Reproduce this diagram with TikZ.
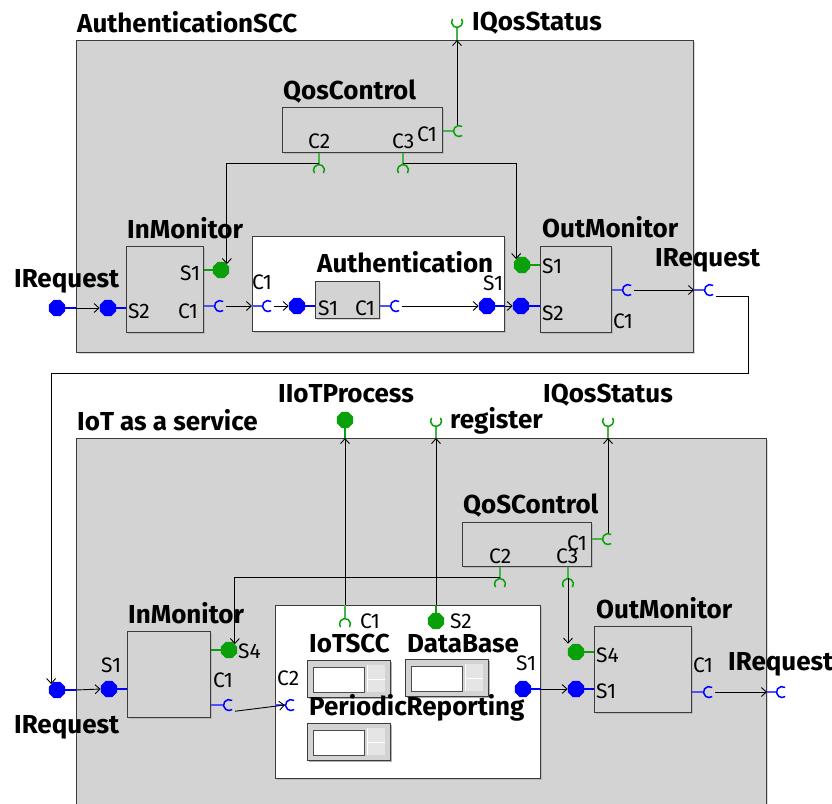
\documentclass[tikz,border=0pt]{standalone}
\usepackage{fontspec}
\IfFontExistsTF{Noto Sans Bold}
  {\setmainfont{Noto Sans}[BoldFont={Noto Sans Bold}]}
  {\setmainfont{Fira Sans}}
\usetikzlibrary{positioning,shapes.geometric,arrows.meta,shadows,calc}

\definecolor{boxgray}{RGB}{211,211,211}
\definecolor{bordc}{RGB}{60,60,60}
\definecolor{pgreen}{RGB}{10,160,10}
\definecolor{lgreen}{RGB}{70,180,70}
\definecolor{pblue}{RGB}{0,0,255}
\definecolor{lblue}{RGB}{80,80,255}

\tikzset{
  ctr/.style={draw=bordc, fill=boxgray, line width=1pt, inner sep=0pt, anchor=north west},
  box/.style={ctr, drop shadow={shadow xshift=1.5pt, shadow yshift=-1.5pt, opacity=0.3}},
  wbox/.style={box, fill=white},
  ttl/.style={font=\bfseries\fontsize{26}{28}\selectfont, inner sep=0pt, anchor=base west},
  plab/.style={font=\fontsize{21}{22}\selectfont, inner sep=0pt, anchor=base west},
  oct/.style={regular polygon, regular polygon sides=8, minimum size=17.5pt, inner sep=0pt, fill=#1},
  pp/.style={inner sep=0pt, minimum size=12pt},
  sstem/.style={line width=2.6pt, draw=#1},
  cstem/.style={line width=1.1pt, draw=#1},
  conn/.style={line width=0.9pt, -{Straight Barb[length=5pt,width=9pt]}},
  creq/.pic={\draw[line width=1.5pt, pic actions] (55:5.5pt) arc[start angle=55, end angle=305, radius=5.5pt];},
  icon/.pic={
    \fill[black!30] (2,-2) rectangle (85,-39);
    \draw[bordc, fill=boxgray, line width=0.8pt] (0,0) rectangle (83,-37);
    \draw[black!70, fill=white, line width=0.8pt] (6,-7) rectangle (57,-32);
    \fill[black!10] (60,-5) rectangle (78,-32);
    \draw[white, line width=1pt] (60,-5) -- (60,-32) (60,-19) -- (78,-19);
  },
}

% required port: name, position, rotation, colour
\newcommand{\cport}[4]{%
  \node[pp] (#1) at (#2) {};
  \pic[rotate=#3, draw=#4] at (#1) {creq};
}

\begin{document}
\begin{tikzpicture}[x=1pt, y=1pt]
\useasboundingbox (0,0) rectangle (832,-803);
%% AuthenticationSCC
\node[box, minimum width=617pt, minimum height=312pt] (asc) at (76,-40) {};
\node[ttl] (asc-t) at (77,-32) {AuthenticationSCC};

% QosControl
\node[box, minimum width=160pt, minimum height=45pt] (qos1) at (282,-107) {};
\node[ttl] (qos1-t) at (283,-99) {QosControl};
\node[plab] (qos1-c2) at (308,-148) {C2};
\node[plab] (qos1-c3) at (392,-148) {C3};
\node[plab] (qos1-c1) at (417,-141) {C1};
\cport{qc2}{319,-170}{-90}{pgreen}
\cport{qc3}{403,-170}{-90}{pgreen}
\cport{qc1}{459,-131}{0}{pgreen}
\draw[cstem=lgreen] (qc2 |- qos1.south) -- (qc2.north);
\draw[cstem=lgreen] (qc3 |- qos1.south) -- (qc3.north);
\draw[cstem=lgreen] (qos1.east |- qc1) -- (qc1.west);
\cport{qst}{457,-22}{90}{pgreen}
\node[ttl] (qst-t) at (472,-30) {IQosStatus};
\draw[cstem=lgreen] (qst |- asc.north) -- (qst.south);
\draw[conn] (qc1.north -| qst) -- (qst |- asc.north);

% InMonitor
\node[box, minimum width=77pt, minimum height=86pt] (im1) at (126,-246) {};
\node[ttl] (im1-t) at (127,-238) {InMonitor};
\node[plab] (im1-s1) at (180,-280) {S1};
\node[plab] (im1-c1) at (178,-318) {C1};
\node[plab] (im1-s2) at (128,-318) {S2};
\draw[sstem=pgreen] (im1.east |- 0,-270) -- (213,-270);
\node[oct=pgreen] (ims1) at (221,-270) {};
\cport{imc1}{220,-306}{0}{pblue}
\draw[cstem=lblue] (im1.east |- imc1) -- (imc1.west);
\node[oct=pblue] (ims2) at (108,-308) {};
\draw[sstem=pblue] (ims2.east) -- (im1.west |- ims2);
\node[oct=pblue] (irq1) at (57,-308) {};
\node[ttl] (irq1-t) at (14,-287) {IRequest};
\draw[sstem=pblue] (irq1.east) -- (asc.west |- irq1);
\draw[conn] (asc.west |- irq1) -- (ims2.west);

% Authentication
\node[wbox, minimum width=252pt, minimum height=95pt] (au) at (252,-236) {};
\node[ttl] (au-t) at (317,-272) {Authentication};
\node[plab] (au-c1) at (252,-289) {C1};
\node[plab] (au-s1) at (483,-290) {S1};
\cport{auc1}{268,-306}{0}{pblue}
\draw[cstem=lblue] (au.west |- auc1) -- (auc1.west);
\node[box, minimum width=64pt, minimum height=37pt] (aui) at (315,-281) {};
\node[plab] (aui-s1) at (318,-315) {S1};
\node[plab] (aui-c1) at (355,-315) {C1};
\node[oct=pblue] (auis1) at (297,-306) {};
\draw[sstem=pblue] (auis1.east) -- (aui.west |- auis1);
\cport{auic1}{396,-306}{0}{pblue}
\draw[cstem=lblue] (aui.east |- auic1) -- (auic1.west);
\node[oct=pblue] (aus1) at (487,-306) {};
\draw[sstem=pblue] (aus1.east) -- (au.east |- aus1);
\draw[conn] (imc1.east) -- (au.west |- imc1);
\draw[conn] (auc1.east) -- (auis1.west);
\draw[conn] (auic1.east) -- (aus1.west);

% OutMonitor
\node[box, minimum width=71pt, minimum height=86pt] (om1) at (540,-246) {};
\node[ttl] (om1-t) at (542,-237) {OutMonitor};
\node[plab] (om1-s1) at (542,-273) {S1};
\node[plab] (om1-s2) at (542,-320) {S2};
\node[plab] (om1-c1) at (613,-328) {C1};
\node[oct=pgreen] (oms1) at (522,-265) {};
\draw[sstem=pgreen] (oms1.east) -- (om1.west |- oms1);
\node[oct=pblue] (oms2) at (521,-306) {};
\draw[sstem=pblue] (oms2.east) -- (om1.west |- oms2);
\draw[conn] (au.east |- aus1) -- (oms2.west);
\cport{omc1}{628,-290}{0}{pblue}
\draw[cstem=lblue] (om1.east |- omc1) -- (omc1.west);
\cport{irq2}{710,-290}{0}{pblue}
\draw[cstem=lblue] (asc.east |- irq2) -- (irq2.west);
\node[ttl] (irq2-t) at (655,-266) {IRequest};
\draw[conn] (omc1.east) -- (asc.east |- omc1);

% QosControl -> monitors
\draw[conn] (qc2.north) -| (ims1.north east);
\draw[conn] (qc3.north) -| (oms1.north west);

%% IoT as a service
\node[box, minimum width=690pt, minimum height=380pt] (iot) at (76,-438) {};
\node[ttl] (iot-t) at (77,-430) {IoT as a service};

\node[oct=pgreen] (iip) at (345,-420) {};
\node[ttl] (iip-t) at (278,-402) {IIoTProcess};
\draw[sstem=pgreen] (iip.south) -- (iip |- iot.north);
\cport{reg}{436,-421}{90}{pgreen}
\draw[cstem=lgreen] (reg.south) -- (reg |- iot.north);
\node[ttl] (reg-t) at (450,-428) {register};
\cport{qst2}{608,-421}{90}{pgreen}
\draw[cstem=lgreen] (qst2.south) -- (qst2 |- iot.north);
\node[ttl] (qst2-t) at (543,-402) {IQosStatus};

% QoSControl
\node[box, minimum width=129pt, minimum height=44pt] (qos2) at (462,-522) {};
\node[ttl] (qos2-t) at (463,-513) {QoSControl};
\node[plab] (qos2-c1) at (567,-550) {C1};
\node[plab] (qos2-c2) at (489,-563) {C2};
\node[plab] (qos2-c3) at (556,-563) {C3};
\cport{q2c1}{608,-539}{0}{pgreen}
\draw[cstem=lgreen] (qos2.east |- q2c1) -- (q2c1.west);
\cport{q2c2}{500,-584}{-90}{pgreen}
\draw[cstem=lgreen] (q2c2 |- qos2.south) -- (q2c2.north);
\cport{q2c3}{568,-584}{-90}{pgreen}
\draw[cstem=lgreen] (q2c3 |- qos2.south) -- (q2c3.north);
\draw[conn] (q2c1.north) -- (q2c1 |- iot.north);

% InMonitor
\node[box, minimum width=83pt, minimum height=86pt] (im2) at (127,-631) {};
\node[ttl] (im2-t) at (128,-623) {InMonitor};
\node[plab] (im2-s4) at (238,-658) {S4};
\node[plab] (im2-c1) at (213,-687) {C1};
\node[plab] (im2-s1) at (101,-672) {S1};
\node[oct=pgreen] (ims4) at (229,-650) {};
\draw[sstem=pgreen] (im2.east |- ims4) -- (ims4.west);
\cport{imc2}{229,-705}{0}{pblue}
\draw[cstem=lblue] (im2.east |- imc2) -- (imc2.west);
\node[oct=pblue] (ims1b) at (109,-689) {};
\draw[sstem=pblue] (ims1b.east) -- (im2.west |- ims1b);
\node[oct=pblue] (irq3) at (57,-690) {};
\node[ttl] (irq3-t) at (14,-733) {IRequest};
\draw[sstem=pblue] (irq3.east) -- (iot.west |- irq3);
\draw[conn] (iot.west |- irq3) -- (ims1b.west);
\draw[conn] (q2c2.north) -| (ims4.north east);
\draw[conn] (irq2.south east) -| ($(irq2)+(38,-83)$) -| (irq3.north west);

% inner part
\node[wbox, minimum width=265pt, minimum height=173pt] (ib) at (275,-605) {};
\cport{ic1}{345,-624}{-90}{pgreen}
\draw[cstem=lgreen] (ic1 |- ib.north) -- (ic1.north);
\node[plab] (ib-c1) at (360,-628) {C1};
\draw[sstem=pgreen] (436,-605) -- (436,-613);
\node[oct=pgreen] (is2) at (436,-621) {};
\node[plab] (ib-s2) at (450,-628) {S2};
\cport{ic2}{291,-705}{0}{pblue}
\draw[cstem=lblue] (ib.west |- ic2) -- (ic2.west);
\node[plab] (ib-c2) at (277,-685) {C2};
\node[oct=pblue] (is1) at (523,-689) {};
\draw[sstem=pblue] (is1.east) -- (ib.east |- is1);
\node[plab] (ib-s1) at (516,-670) {S1};
\draw[conn] (ic1 |- ib.north) -- (iip |- iot.north);
\draw[conn] (is2 |- ib.north) -- (reg |- iot.north);
\draw[conn] (imc2.south east) -- (ic2.west);

\node[ttl] (sc-t) at (309,-652) {IoTSCC};
\pic at (307,-660) {icon};
\node[ttl] (db-t) at (407,-652) {DataBase};
\pic at (405,-659) {icon};
\node[ttl] (pr-t) at (309,-715) {PeriodicReporting};
\pic at (307,-723) {icon};

% OutMonitor
\node[box, minimum width=97pt, minimum height=86pt] (om2) at (594,-626) {};
\node[ttl] (om2-t) at (596,-618) {OutMonitor};
\node[plab] (om2-s4) at (596,-662) {S4};
\node[plab] (om2-s1) at (596,-698) {S1};
\node[plab] (om2-c1) at (693,-672) {C1};
\node[oct=pgreen] (oms4) at (576,-652) {};
\draw[sstem=pgreen] (oms4.east) -- (om2.west |- oms4);
\node[oct=pblue] (oms1b) at (576,-689) {};
\draw[sstem=pblue] (oms1b.east) -- (om2.west |- oms1b);
\cport{omc2}{709,-692}{0}{pblue}
\draw[cstem=lblue] (om2.east |- omc2) -- (omc2.west);
\cport{irq4}{782,-692}{0}{pblue}
\draw[cstem=lblue] (iot.east |- irq4) -- (irq4.west);
\node[ttl] (irq4-t) at (728,-670) {IRequest};
\draw[conn] (omc2.east) -- (iot.east |- omc2);
\draw[conn] (ib.east |- is1) -- (oms1b.west);
\draw[conn] (q2c3.north) -- (q2c3 |- oms4.north);
\end{tikzpicture}
\end{document}
